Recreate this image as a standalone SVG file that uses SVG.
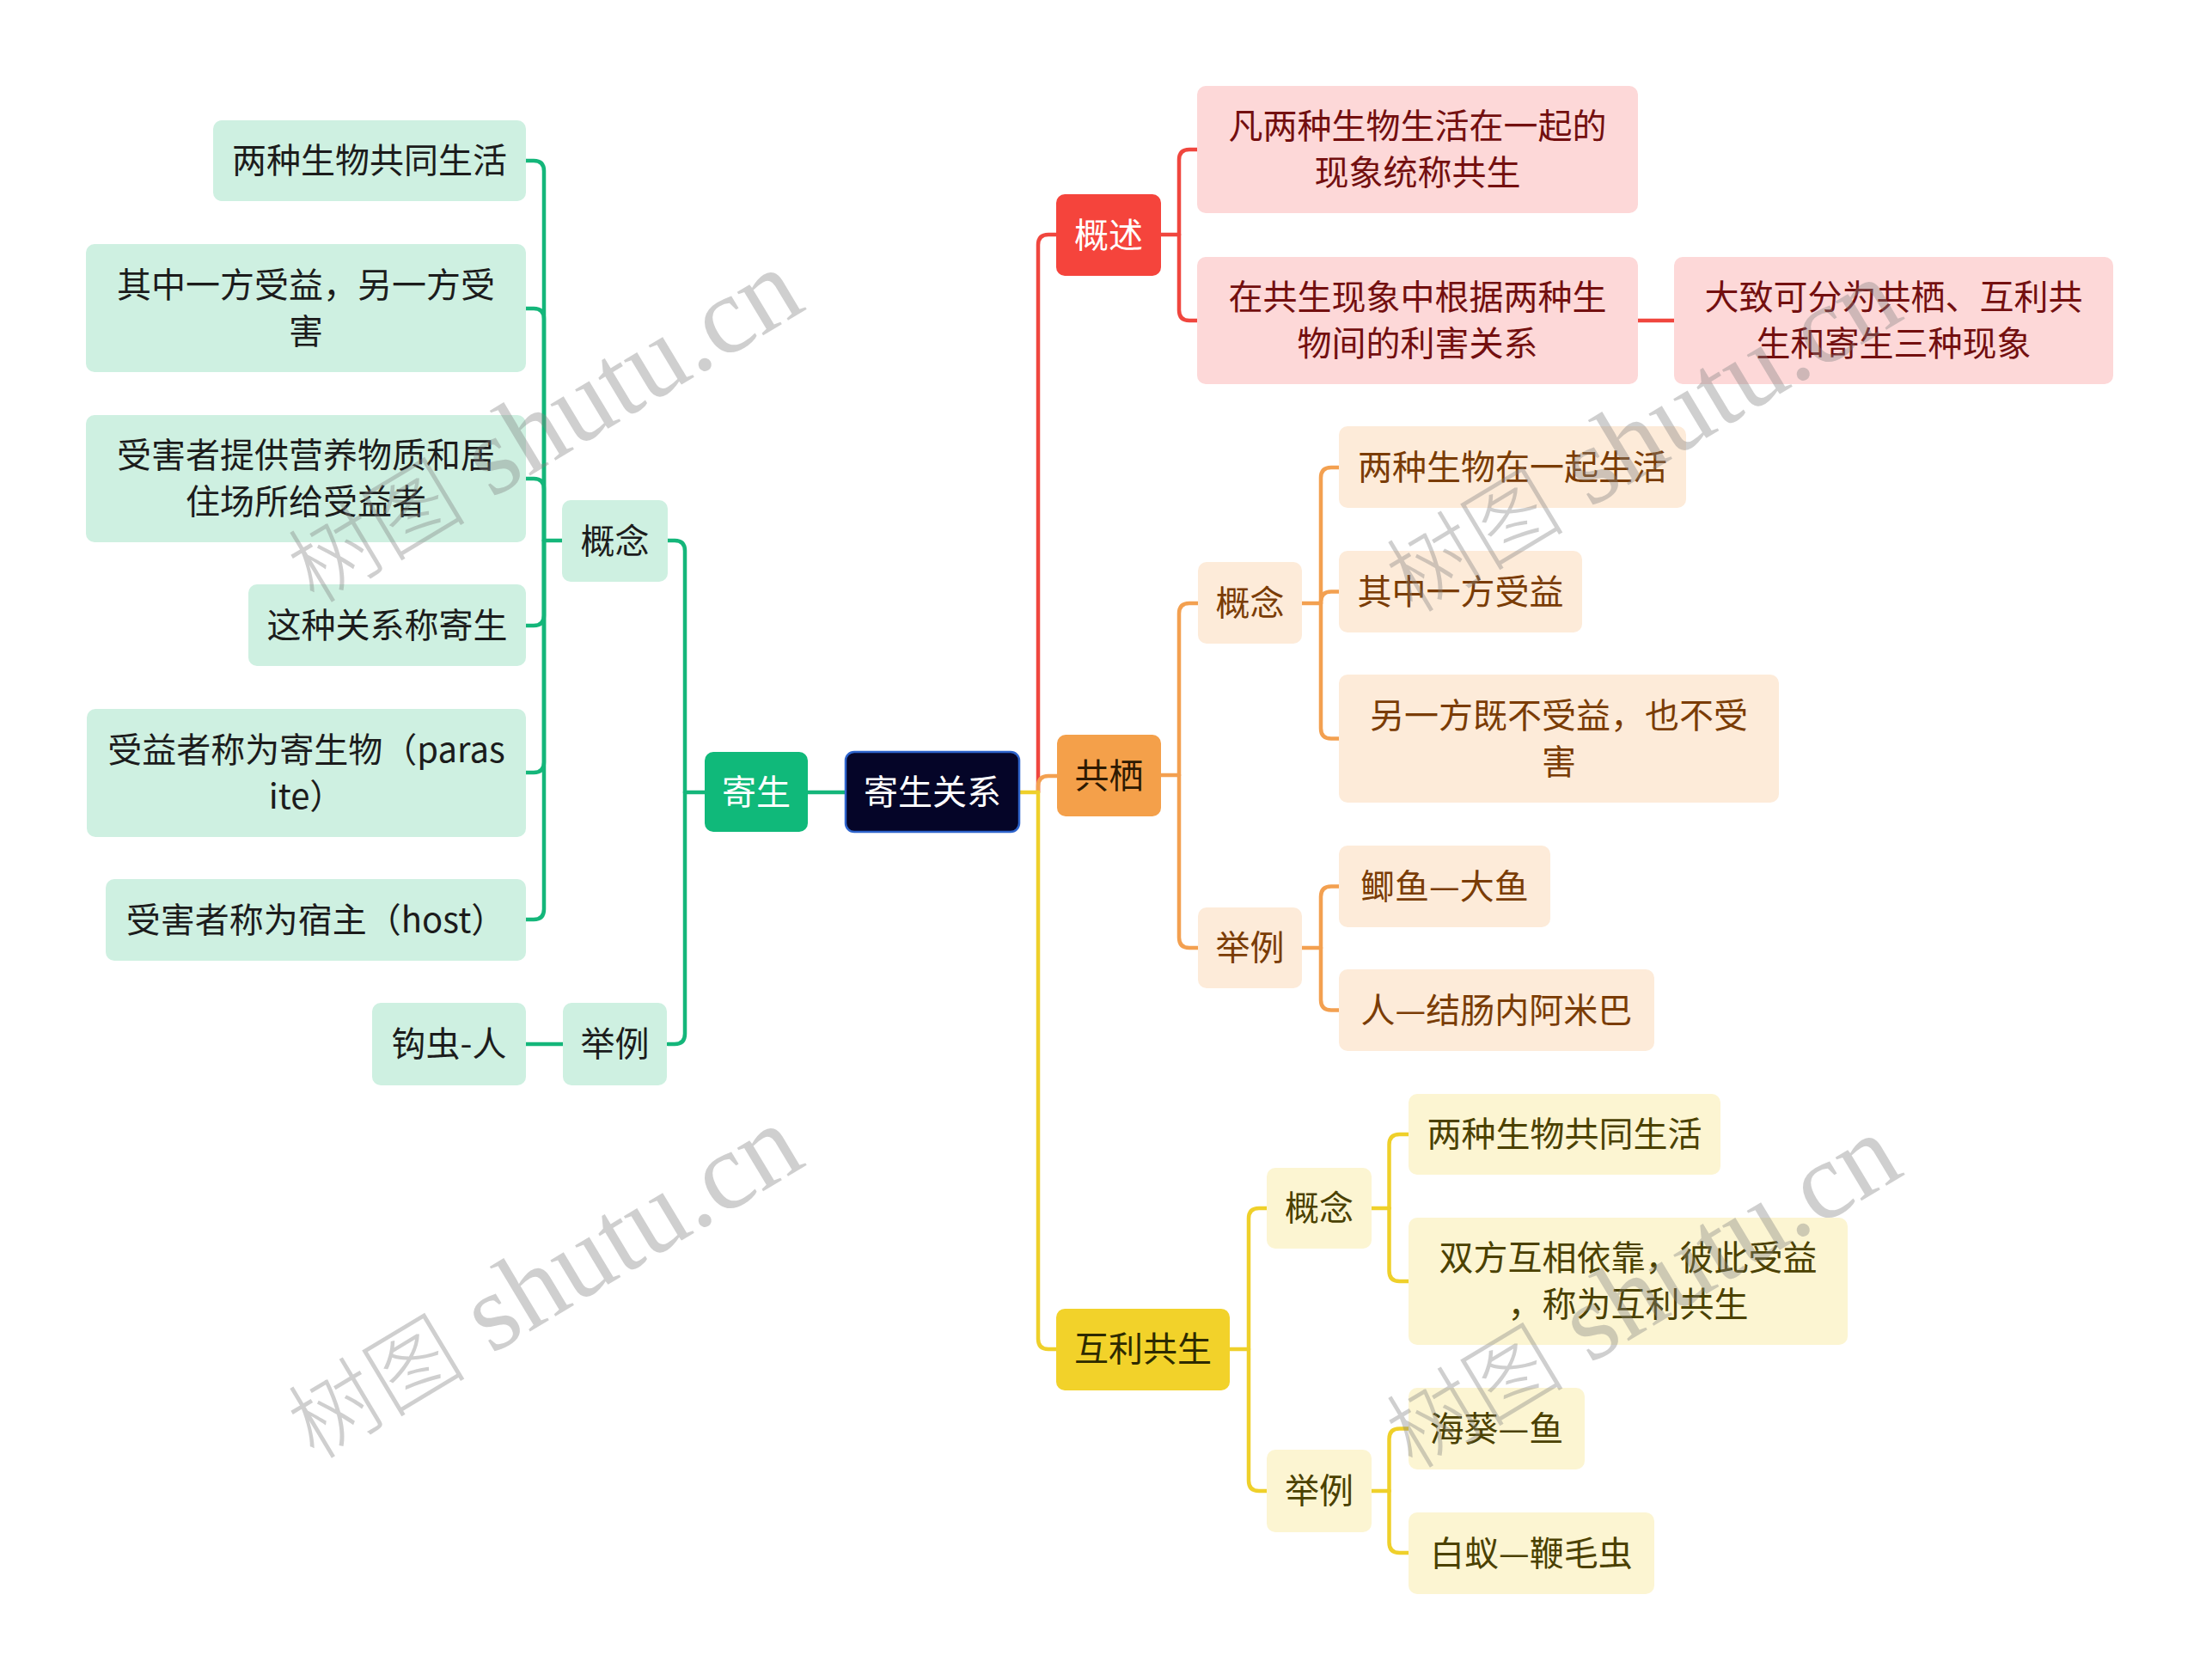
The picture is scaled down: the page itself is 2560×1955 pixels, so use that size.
<svg xmlns="http://www.w3.org/2000/svg" width="2560" height="1955" viewBox="0 0 2560 1955">
<style>
text{font-family:"Noto Sans CJK SC","Noto Sans",sans-serif;font-size:40px;text-anchor:middle}
.c{fill:none;stroke-width:4.5;stroke-linecap:round;stroke-linejoin:round}
.cg{stroke:#14b67a}.cr{stroke:#f0463e}.co{stroke:#f3a050}.cy{stroke:#efd02a}
.gl{fill:#cef0e1}.gt{fill:#1c1c1c}
.rl{fill:#fdd8d8}.rt{fill:#730f0f}
.ol{fill:#fdebd9}.ot{fill:#7a3c05}
.yl{fill:#fcf5d2}.yt{fill:#4b4100}
.wm{font-family:"Liberation Serif","Noto Sans CJK SC",serif;font-size:128px;text-anchor:start;fill:#808080;fill-opacity:0.38}
.wc{font-size:104px;font-weight:300}
</style>
<rect width="2560" height="1955" fill="#ffffff"/>
<g id="connectors">
<path class="c cg" d="M984 922 H940"/>
<path class="c cg" d="M820 922 H797"/>
<path class="c cg" d="M797 922 V641 Q797 629 785 629 H777"/>
<path class="c cg" d="M797 922 V1203 Q797 1215 785 1215 H777"/>
<path class="c cg" d="M654 629 H633"/>
<path class="c cg" d="M633 629 V199 Q633 187 621 187 H612"/>
<path class="c cg" d="M633 629 V371 Q633 359 621 359 H612"/>
<path class="c cg" d="M633 629 V569 Q633 557 621 557 H612"/>
<path class="c cg" d="M633 629 V716 Q633 728 621 728 H612"/>
<path class="c cg" d="M633 629 V887 Q633 899 621 899 H612"/>
<path class="c cg" d="M633 629 V1058 Q633 1070 621 1070 H612"/>
<path class="c cg" d="M655 1215 H612"/>
<path class="c cr" d="M1208 922 V285 Q1208 273 1220 273 H1229"/>
<path class="c co" d="M1208 922 V915 Q1208 903 1220 903 H1230"/>
<path class="c cy" d="M1208 922 V1558 Q1208 1570 1220 1570 H1229"/>
<path class="c cy" d="M1186 922 H1208"/>
<path class="c cr" d="M1351 273 H1372"/>
<path class="c cr" d="M1372 273 V186 Q1372 174 1384 174 H1393"/>
<path class="c cr" d="M1372 273 V361 Q1372 373 1384 373 H1393"/>
<path class="c cr" d="M1906 373 H1948"/>
<path class="c co" d="M1351 902 H1372"/>
<path class="c co" d="M1372 902 V714 Q1372 702 1384 702 H1394"/>
<path class="c co" d="M1372 902 V1091 Q1372 1103 1384 1103 H1394"/>
<path class="c co" d="M1515 702 H1537"/>
<path class="c co" d="M1537 702 V556 Q1537 544 1549 544 H1558"/>
<path class="c co" d="M1537 702 V700.5 Q1537 688.5 1549 688.5 H1558"/>
<path class="c co" d="M1537 702 V847.5 Q1537 859.5 1549 859.5 H1558"/>
<path class="c co" d="M1515 1103 H1537"/>
<path class="c co" d="M1537 1103 V1043.5 Q1537 1031.5 1549 1031.5 H1558"/>
<path class="c co" d="M1537 1103 V1163.5 Q1537 1175.5 1549 1175.5 H1558"/>
<path class="c cy" d="M1431 1570 H1453"/>
<path class="c cy" d="M1453 1570 V1418 Q1453 1406 1465 1406 H1474"/>
<path class="c cy" d="M1453 1570 V1723 Q1453 1735 1465 1735 H1474"/>
<path class="c cy" d="M1596 1406 H1616.5"/>
<path class="c cy" d="M1616.5 1406 V1332 Q1616.5 1320 1628.5 1320 H1639"/>
<path class="c cy" d="M1616.5 1406 V1479 Q1616.5 1491 1628.5 1491 H1639"/>
<path class="c cy" d="M1596 1735 H1616.5"/>
<path class="c cy" d="M1616.5 1735 V1674.5 Q1616.5 1662.5 1628.5 1662.5 H1639"/>
<path class="c cy" d="M1616.5 1735 V1795 Q1616.5 1807 1628.5 1807 H1639"/>
</g>
<g id="root"><rect x="984" y="875" width="202" height="93" rx="10" fill="#050528" stroke="#2e64cc" stroke-width="2.5"/><text x="1085" y="936" fill="#ffffff">寄生关系</text></g>
<g id="jisheng"><rect x="820" y="875" width="120" height="93" rx="10" fill="#10b97a"/><text x="880" y="936" fill="#ffffff">寄生</text></g>
<g id="g-gainian"><rect class="gl" x="654" y="582" width="123" height="95" rx="10"/><text class="gt" x="715.5" y="643.5">概念</text></g>
<g id="g-juli"><rect class="gl" x="655" y="1167" width="121" height="96" rx="10"/><text class="gt" x="715.5" y="1229">举例</text></g>
<g id="g-l1"><rect class="gl" x="248" y="140" width="364" height="94" rx="10"/><text class="gt" x="430" y="201">两种生物共同生活</text></g>
<g id="g-l2"><rect class="gl" x="100" y="284" width="512" height="149" rx="10"/><text class="gt" x="356" y="345.5">其中一方受益，另一方受</text><text class="gt" x="356" y="399.5">害</text></g>
<g id="g-l3"><rect class="gl" x="100" y="483" width="512" height="148" rx="10"/><text class="gt" x="356" y="544">受害者提供营养物质和居</text><text class="gt" x="356" y="598">住场所给受益者</text></g>
<g id="g-l4"><rect class="gl" x="289" y="680" width="323" height="95" rx="10"/><text class="gt" x="450.5" y="741.5">这种关系称寄生</text></g>
<g id="g-l5"><rect class="gl" x="101" y="825" width="511" height="149" rx="10"/><text class="gt" x="356.5" y="886.5">受益者称为寄生物（paras</text><text class="gt" x="356.5" y="940.5">ite）</text></g>
<g id="g-l6"><rect class="gl" x="123" y="1023" width="489" height="95" rx="10"/><text class="gt" x="367.5" y="1084.5">受害者称为宿主（host）</text></g>
<g id="g-hook"><rect class="gl" x="433" y="1167" width="179" height="96" rx="10"/><text class="gt" x="522.5" y="1229">钩虫-人</text></g>
<g id="r-gaishu"><rect x="1229" y="226" width="122" height="95" rx="10" fill="#f5443c"/><text x="1290" y="287.5" fill="#ffffff">概述</text></g>
<g id="r-a"><rect class="rl" x="1393" y="100" width="513" height="148" rx="10"/><text class="rt" x="1649.5" y="161">凡两种生物生活在一起的</text><text class="rt" x="1649.5" y="215">现象统称共生</text></g>
<g id="r-b"><rect class="rl" x="1393" y="299" width="513" height="148" rx="10"/><text class="rt" x="1649.5" y="360">在共生现象中根据两种生</text><text class="rt" x="1649.5" y="414">物间的利害关系</text></g>
<g id="r-c"><rect class="rl" x="1948" y="299" width="511" height="148" rx="10"/><text class="rt" x="2203.5" y="360">大致可分为共栖、互利共</text><text class="rt" x="2203.5" y="414">生和寄生三种现象</text></g>
<g id="o-gongqi"><rect x="1230" y="855" width="121" height="95" rx="10" fill="#f4a04a"/><text x="1290.5" y="916.5" fill="#2e1a02">共栖</text></g>
<g id="o-gainian"><rect class="ol" x="1394" y="654" width="121" height="95" rx="10"/><text class="ot" x="1454.5" y="715.5">概念</text></g>
<g id="o-juli"><rect class="ol" x="1394" y="1056" width="121" height="94" rx="10"/><text class="ot" x="1454.5" y="1117">举例</text></g>
<g id="o-l1"><rect class="ol" x="1558" y="496" width="404" height="95" rx="10"/><text class="ot" x="1760" y="557.5">两种生物在一起生活</text></g>
<g id="o-l2"><rect class="ol" x="1558" y="641" width="283" height="95" rx="10"/><text class="ot" x="1699.5" y="702.5">其中一方受益</text></g>
<g id="o-l3"><rect class="ol" x="1558" y="785" width="512" height="149" rx="10"/><text class="ot" x="1814" y="846.5">另一方既不受益，也不受</text><text class="ot" x="1814" y="900.5">害</text></g>
<g id="o-l4"><rect class="ol" x="1558" y="984" width="246" height="95" rx="10"/><text class="ot" x="1681" y="1045.5">鲫鱼—大鱼</text></g>
<g id="o-l5"><rect class="ol" x="1558" y="1128" width="367" height="95" rx="10"/><text class="ot" x="1741.5" y="1189.5">人—结肠内阿米巴</text></g>
<g id="y-huli"><rect x="1229" y="1523" width="202" height="95" rx="10" fill="#f2d22a"/><text x="1330" y="1584" fill="#2d2a00">互利共生</text></g>
<g id="y-gainian"><rect class="yl" x="1474" y="1359" width="122" height="94" rx="10"/><text class="yt" x="1535" y="1420">概念</text></g>
<g id="y-juli"><rect class="yl" x="1474" y="1687" width="122" height="96" rx="10"/><text class="yt" x="1535" y="1749">举例</text></g>
<g id="y-l1"><rect class="yl" x="1639" y="1273" width="363" height="94" rx="10"/><text class="yt" x="1820.5" y="1334">两种生物共同生活</text></g>
<g id="y-l2"><rect class="yl" x="1639" y="1417" width="511" height="148" rx="10"/><text class="yt" x="1894.5" y="1478">双方互相依靠，彼此受益</text><text class="yt" x="1894.5" y="1532">，称为互利共生</text></g>
<g id="y-l3"><rect class="yl" x="1639" y="1615" width="205" height="95" rx="10"/><text class="yt" x="1741.5" y="1676.5">海葵—鱼</text></g>
<g id="y-l4"><rect class="yl" x="1639" y="1760" width="286" height="95" rx="10"/><text class="yt" x="1782" y="1821.5">白蚁—鞭毛虫</text></g>
<g id="watermarks">
<text class="wm" transform="translate(366 704) rotate(-31)"><tspan class="wc">树图</tspan> shutu.cn</text>
<text class="wm" transform="translate(366 1700) rotate(-31)"><tspan class="wc">树图</tspan> shutu.cn</text>
<text class="wm" transform="translate(1644 715) rotate(-31)"><tspan class="wc">树图</tspan> shutu.cn</text>
<text class="wm" transform="translate(1644 1711) rotate(-31)"><tspan class="wc">树图</tspan> shutu.cn</text>
</g>
</svg>
